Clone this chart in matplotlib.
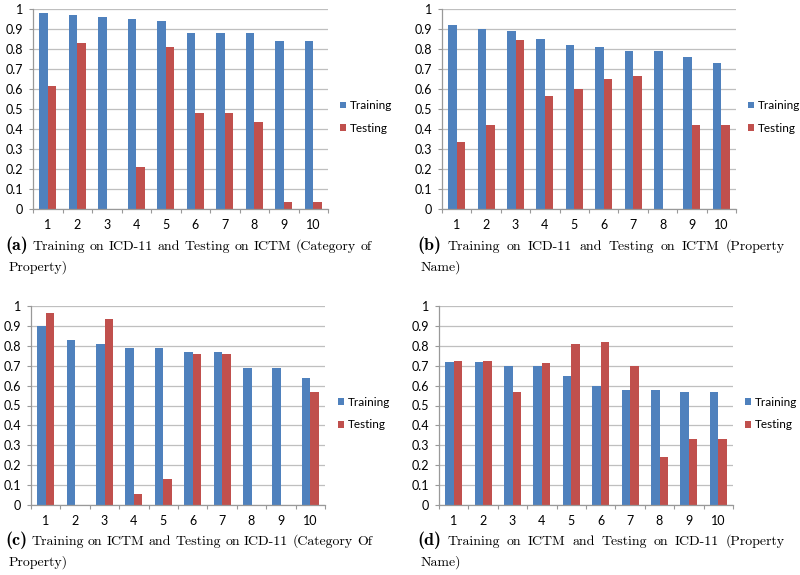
import matplotlib
matplotlib.use("Agg")
import matplotlib.pyplot as plt
import numpy as np
from matplotlib.patches import Patch

categories = [1, 2, 3, 4, 5, 6, 7, 8, 9, 10]

train_a = [0.98, 0.97, 0.96, 0.95, 0.94, 0.88, 0.88, 0.88, 0.84, 0.84]
test_a = [0.615, 0.828, 0.0, 0.208, 0.808, 0.478, 0.478, 0.435, 0.036, 0.036]

train_b = [0.92, 0.90, 0.89, 0.85, 0.82, 0.81, 0.79, 0.79, 0.76, 0.73]
test_b = [0.335, 0.42, 0.847, 0.567, 0.60, 0.65, 0.667, 0.0, 0.42, 0.42]

train_c = [0.90, 0.83, 0.81, 0.79, 0.79, 0.77, 0.77, 0.69, 0.69, 0.64]
test_c = [0.967, 0.0, 0.935, 0.054, 0.133, 0.76, 0.76, 0.0, 0.0, 0.57]

train_d = [0.72, 0.72, 0.70, 0.70, 0.65, 0.60, 0.58, 0.58, 0.57, 0.57]
test_d = [0.724, 0.724, 0.57, 0.714, 0.81, 0.818, 0.70, 0.24, 0.333, 0.333]

yticks = [0, 0.1, 0.2, 0.3, 0.4, 0.5, 0.6, 0.7, 0.8, 0.9, 1]
ytick_labels = ["0", "0.1", "0.2", "0.3", "0.4", "0.5", "0.6", "0.7", "0.8", "0.9", "1"]
series_names = ["Training", "Testing"]

captions = [
    ("(a)", "Training on ICD-11 and Testing on ICTM (Category of", "Property)"),
    ("(b)", "Training on ICD-11 and Testing on ICTM (Property", "Name)"),
    ("(c)", "Training on ICTM and Testing on ICD-11 (Category Of", "Property)"),
    ("(d)", "Training on ICTM and Testing on ICD-11 (Property", "Name)"),
]

BLUE = "#4F81BD"
RED = "#C0504D"
GRID = "#BFBFBF"
TXT = "#000000"

W, H = 800, 575
fig = plt.figure(figsize=(8, 5.75), dpi=100)
fig.patch.set_facecolor("white")

# axes boxes in pixels: left, right, top, bottom
boxes = [
    (33, 328, 9, 209),
    (442, 736, 9, 209),
    (31, 325, 306, 505),
    (439, 733, 306, 505),
]
legend_x = [340, 748, 338, 745]
data = [(train_a, test_a), (train_b, test_b), (train_c, test_c), (train_d, test_d)]

x = np.array(categories, dtype=float)
bw = 0.286

for (l, r, t, b), lx, (tr, te) in zip(boxes, legend_x, data):
    ax = fig.add_axes([l / W, (H - b) / H, (r - l) / W, (b - t) / H])
    ax.set_axisbelow(True)
    ax.bar(x - bw / 2, tr, width=bw, color=BLUE, label=series_names[0], zorder=2)
    ax.bar(x + bw / 2, te, width=bw, color=RED, label=series_names[1], zorder=2)
    ax.set_xlim(0.5, 10.5)
    ax.set_ylim(0, 1)
    ax.set_yticks(yticks)
    ax.set_yticklabels(ytick_labels, fontfamily="Lato", fontsize=9, color=TXT)
    ax.set_xticks(x)
    ax.set_xticklabels([str(c) for c in categories], fontfamily="Lato", fontsize=9, color=TXT)
    ax.tick_params(axis="x", length=0, pad=7)
    ax.set_xticks(np.arange(0.5, 11.0, 1.0), minor=True)
    ax.tick_params(axis="x", which="minor", length=3, color="#999999", width=0.8, direction="out")
    ax.tick_params(axis="y", length=3, color="#999999", width=0.8, pad=4)
    ax.yaxis.grid(True, color=GRID, linewidth=0.9)
    for s in ["top", "right"]:
        ax.spines[s].set_visible(False)
    for s in ["left", "bottom"]:
        ax.spines[s].set_color("#999999")
        ax.spines[s].set_linewidth(0.9)
    handles = [Patch(facecolor=BLUE), Patch(facecolor=RED)]
    leg = ax.legend(handles, series_names, loc="center left",
                    bbox_to_anchor=((lx - l) / (r - l), 0.46),
                    frameon=False, borderpad=0, borderaxespad=0,
                    handlelength=0.5, handleheight=0.5, handletextpad=0.35,
                    labelspacing=1.0, prop={"family": "Lato", "size": 8.5})
    for txt in leg.get_texts():
        txt.set_color(TXT)

# captions, justified
fig.canvas.draw()
renderer = fig.canvas.get_renderer()

CAP_SIZE = 10
LAB_SIZE = 13


def make(w, bold):
    if bold:
        return fig.text(0, 0, w, fontfamily="cmb10", fontsize=LAB_SIZE, va="baseline", ha="left", transform=None)
    return fig.text(0, 0, w, fontfamily="cmr10", fontsize=CAP_SIZE, va="baseline", ha="left", transform=None)


def justify(x0, x1, y, words):
    objs = [make(w, i == 0) for i, w in enumerate(words)]
    widths = [o.get_window_extent(renderer).width for o in objs]
    gap = (x1 - x0 - sum(widths)) / max(len(words) - 1, 1)
    cx = x0
    for o, wd in zip(objs, widths):
        o.set_position((cx, H - y))
        cx += wd + gap


def place(x0, y, text):
    o = make(text, False)
    o.set_position((x0, H - y))


cap_pos = [(5, 372, 250, 271), (417, 785, 250, 271), (5, 372, 545, 566), (417, 785, 545, 566)]
for (lab, line1, line2), (x0, x1, y1, y2) in zip(captions, cap_pos):
    justify(x0, x1, y1, [lab] + line1.split())
    place(x0 + 4, y2, line2)

fig.savefig("out.png", dpi=100, facecolor="white")
